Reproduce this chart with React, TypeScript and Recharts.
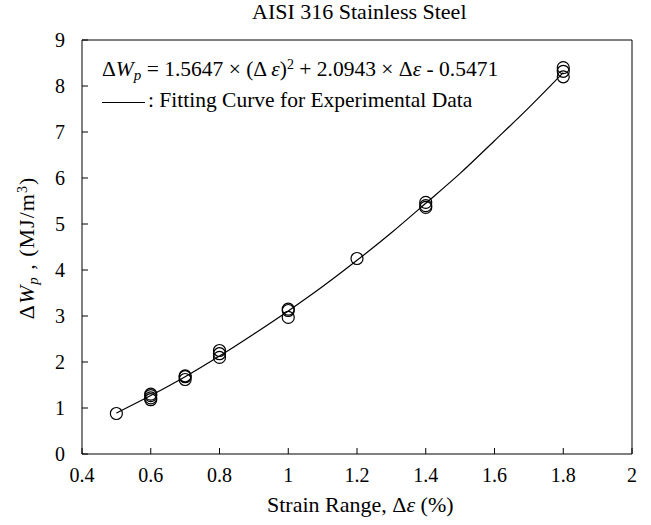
import React from "react";
import { ComposedChart, Line, Scatter, XAxis, YAxis } from "recharts";

// experimental points (strain range %, ΔWp MJ/m3)
const strainPoints = [0.5, 0.6, 0.6, 0.6, 0.6, 0.7, 0.7, 0.7, 0.8, 0.8, 0.8, 1.0, 1.0, 1.0, 1.2, 1.4, 1.4, 1.4, 1.8, 1.8, 1.8];
const energyPoints = [0.88, 1.18, 1.22, 1.27, 1.3, 1.62, 1.68, 1.7, 2.1, 2.18, 2.25, 2.97, 3.12, 3.15, 4.25, 5.36, 5.4, 5.47, 8.2, 8.32, 8.4];

// fitting curve
const curveStrain = [0.5, 0.6, 0.7, 0.8, 0.9, 1.0, 1.1, 1.2, 1.3, 1.4, 1.5, 1.6, 1.7, 1.8];
const curveEnergy = [0.89, 1.27, 1.68, 2.13, 2.61, 3.11, 3.64, 4.21, 4.81, 5.45, 6.1, 6.81, 7.53, 8.29];

const xTicks = [0.4, 0.6, 0.8, 1, 1.2, 1.4, 1.6, 1.8, 2];
const yTicks = [0, 1, 2, 3, 4, 5, 6, 7, 8, 9];

const points = strainPoints.map((x, i) => ({ x, y: energyPoints[i] }));
const curve = curveStrain.map((x, i) => ({ x, y: curveEnergy[i] }));

const FONT = '"Liberation Serif", "Times New Roman", serif';

function OpenCircle(props: any) {
  return <circle cx={props.cx} cy={props.cy} r={6} fill="none" stroke="#000" strokeWidth={1.2} />;
}

function XTick(props: any) {
  const { x, y, payload } = props;
  return (
    <text x={x} y={y} dy="0.71em" textAnchor="middle" fill="#000" style={{ fontFamily: FONT, fontSize: 20 }}>
      {payload.value}
    </text>
  );
}

function YTick(props: any) {
  const { x, y, payload } = props;
  return (
    <text x={x} y={y} dy="0.355em" textAnchor="end" fill="#000" style={{ fontFamily: FONT, fontSize: 20 }}>
      {payload.value}
    </text>
  );
}

const noTick = () => <g />;

export default function App() {
  return (
    <div style={{ position: "absolute", left: 0, top: 0, width: 651, height: 525, fontFamily: FONT, color: "#000" }}>
      <ComposedChart
        width={651}
        height={525}
        margin={{ top: 39, right: 18, bottom: 70, left: 81 }}
        style={{ fontFamily: FONT }}
      >
        <XAxis
          xAxisId="b"
          type="number"
          dataKey="x"
          domain={[0.4, 2]}
          ticks={xTicks}
          height={1}
          tickSize={-6}
          tickMargin={20}
          tick={XTick}
          stroke="#000"
          allowDataOverflow
        />
        <XAxis
          xAxisId="t"
          orientation="top"
          type="number"
          dataKey="x"
          domain={[0.4, 2]}
          ticks={xTicks}
          height={1}
          tickSize={-6}
          tick={noTick}
          stroke="#000"
        />
        <YAxis
          yAxisId="l"
          type="number"
          domain={[0, 9]}
          ticks={yTicks}
          width={1}
          tickSize={-6}
          tickMargin={23}
          tick={YTick}
          stroke="#000"
        />
        <YAxis
          yAxisId="r"
          orientation="right"
          type="number"
          domain={[0, 9]}
          ticks={yTicks}
          width={1}
          tickSize={-6}
          tick={noTick}
          stroke="#000"
        />
        <Line
          xAxisId="b"
          yAxisId="l"
          data={curve}
          dataKey="y"
          type="monotone"
          stroke="#000"
          strokeWidth={1.2}
          dot={false}
          isAnimationActive={false}
        />
        <Scatter xAxisId="b" yAxisId="l" data={points} dataKey="y" shape={OpenCircle} isAnimationActive={false} />
      </ComposedChart>

      <div style={{ position: "absolute", left: 252, top: -1, fontSize: 22, whiteSpace: "nowrap" }}>
        AISI 316 Stainless Steel
      </div>

      <div style={{ position: "absolute", left: 102, top: 52, fontSize: 21.5, whiteSpace: "nowrap", lineHeight: "25px" }}>
        <div>
          Δ<i>W</i>
          <sub style={{ fontSize: 15, verticalAlign: -4 }}>
            <i>p</i>
          </sub>{" "}
          = 1.5647 × (Δ <i>ε</i>)<sup style={{ fontSize: 14, verticalAlign: 7 }}>2</sup> + 2.0943 × Δ<i>ε</i> - 0.5471
        </div>
        <div>
          <span style={{ display: "inline-block", width: 43, borderTop: "1.2px solid #000", verticalAlign: "middle", marginRight: 3 }} />
          : Fitting Curve for Experimental Data
        </div>
      </div>

      <div style={{ position: "absolute", left: 267, top: 492, fontSize: 22, whiteSpace: "nowrap" }}>
        Strain Range, Δ<i>ε</i> (%)
      </div>

      <div
        style={{
          position: "absolute",
          left: 28,
          top: 248,
          transform: "translate(-50%, -50%) rotate(-90deg)",
          fontSize: 22,
          letterSpacing: 1,
          whiteSpace: "nowrap",
        }}
      >
        Δ<i>W</i>
        <sub style={{ fontSize: 15, verticalAlign: -4 }}>
          <i>p</i>
        </sub>{" "}
        , (MJ/m<sup style={{ fontSize: 14, verticalAlign: 7 }}>3</sup>)
      </div>
    </div>
  );
}
